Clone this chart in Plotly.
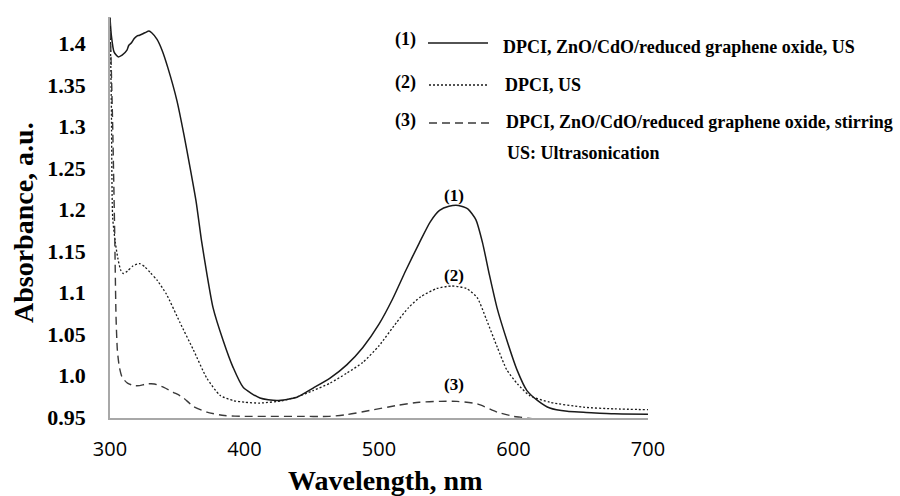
import plotly.graph_objects as go

# ---------------- data ----------------
wl_1 = [300, 301, 303, 306, 309, 312.6, 314, 316, 318, 320, 322, 326, 329, 331, 335, 338.7, 343, 349.8,
        355, 359.5, 364, 368, 372, 376.6, 384, 391.5, 399, 411.5, 424, 439, 451, 463.6, 476, 488, 500,
        510, 520, 530, 538, 545, 552, 559, 566, 572, 577, 582, 587.7, 595, 602.6, 610, 618, 627, 640, 652,
        675, 700]
abs_1 = [1.431, 1.410, 1.390, 1.384, 1.386, 1.392, 1.398, 1.401, 1.406, 1.409, 1.410, 1.413, 1.415, 1.413,
         1.405, 1.392, 1.371, 1.331, 1.290, 1.251, 1.210, 1.163, 1.123, 1.082, 1.043, 1.010, 0.986, 0.973,
         0.970, 0.974, 0.985, 0.997, 1.013, 1.034, 1.062, 1.092, 1.127, 1.160, 1.185, 1.199, 1.204, 1.205,
         1.201, 1.188, 1.160, 1.122, 1.082, 1.043, 1.007, 0.982, 0.970, 0.961, 0.957, 0.956, 0.954, 0.9535]

wl_2 = [300, 301, 302, 304, 306, 308, 310, 313, 317, 322, 326, 330, 335, 342, 352, 362, 372, 382, 391.5,
        400, 411.5, 428.6, 440, 451, 463.6, 476, 488, 500, 513, 522, 531, 543, 554, 565, 573, 580, 588,
        595, 603, 612, 627, 652, 675, 700]
abs_2 = [1.431, 1.330, 1.190, 1.160, 1.140, 1.127, 1.123, 1.126, 1.132, 1.135, 1.131, 1.124, 1.115, 1.098,
         1.064, 1.031, 0.997, 0.976, 0.970, 0.968, 0.967, 0.970, 0.975, 0.982, 0.991, 1.003, 1.016, 1.036,
         1.064, 1.082, 1.095, 1.105, 1.108, 1.105, 1.094, 1.067, 1.034, 1.007, 0.990, 0.976, 0.968, 0.962,
         0.960, 0.959]

wl_3 = [300, 302, 303.5, 304.5, 305.5, 307, 309, 313, 318, 322, 327, 333, 340, 347, 354, 362, 372, 385,
        400, 440, 463, 476, 493, 513, 530, 545, 558, 573, 588, 600, 605, 615, 640, 700]
abs_3 = [1.431, 1.300, 1.170, 1.070, 1.030, 1.010, 0.998, 0.991, 0.988, 0.988, 0.990, 0.990, 0.986, 0.980,
         0.974, 0.963, 0.956, 0.952, 0.951, 0.951, 0.951, 0.953, 0.958, 0.964, 0.968, 0.969, 0.969, 0.966,
         0.956, 0.951, 0.950, 0.948, 0.9475, 0.9475]

y_tick_vals = [0.95, 1.0, 1.05, 1.1, 1.15, 1.2, 1.25, 1.3, 1.35, 1.4]
y_tick_text = ["0.95", "1.0", "1.05", "1.1", "1.15", "1.2", "1.25", "1.3", "1.35", "1.4"]
x_tick_vals = [300, 400, 500, 600, 700]

legend_tags = ["(1)", "(2)", "(3)"]
legend_names = ["DPCI, ZnO/CdO/reduced graphene oxide, US", "DPCI, US",
                "DPCI, ZnO/CdO/reduced graphene oxide, stirring"]
legend_note = "US: Ultrasonication"
curve_tags = ["(1)", "(2)", "(3)"]
curve_tag_pos = [(556, 1.217), (556, 1.121), (556, 0.989)]

# ---------------- layout helpers ----------------
W, H = 900, 496
L, R, T, B = 110, 252, 17, 78
pw, ph = W - L - R, H - T - B


def px(xp):
    return (xp - L) / pw


def py(yp):
    return (H - B - yp) / ph


SERIF = "Liberation Serif"
styles = [dict(color="#1a1a1a", width=1.5, dash="solid"),
          dict(color="#1a1a1a", width=1.3, dash="2px,2px"),
          dict(color="#3a3a3a", width=1.4, dash="8px,5px")]

fig = go.Figure()
for xs, ys, st, nm in zip([wl_1, wl_2, wl_3], [abs_1, abs_2, abs_3], styles, legend_names):
    fig.add_trace(go.Scatter(x=xs, y=ys, mode="lines", line=dict(shape="spline", smoothing=0.6, **st),
                             name=nm, showlegend=False))

ann = []
shapes = []
leg_rows = [(43, 40, 47), (85, 82, 85), (123, 120, 122)]
leg_line_x = [(428, 488), (429, 489), (429, 493)]
leg_text_x = [501, 503, 504]
for i in range(3):
    ly, tagy, ty = leg_rows[i]
    ann.append(dict(x=px(405), y=py(tagy), xref="paper", yref="paper", text="<b>%s</b>" % legend_tags[i],
                    showarrow=False, font=dict(family=SERIF, size=18, color="black"), xanchor="center",
                    yanchor="middle"))
    ann.append(dict(x=px(leg_text_x[i]), y=py(ty), xref="paper", yref="paper",
                    text="<b>%s</b>" % legend_names[i], showarrow=False,
                    font=dict(family=SERIF, size=18, color="black"), xanchor="left", yanchor="middle"))
    shapes.append(dict(type="line", xref="paper", yref="paper", x0=px(leg_line_x[i][0]),
                       x1=px(leg_line_x[i][1]), y0=py(ly), y1=py(ly), line=styles[i]))
ann.append(dict(x=px(505), y=py(153), xref="paper", yref="paper", text="<b>%s</b>" % legend_note,
                showarrow=False, font=dict(family=SERIF, size=18, color="black"), xanchor="left",
                yanchor="middle"))
for tag, (tx, ty) in zip(curve_tags, curve_tag_pos):
    ann.append(dict(x=tx, y=ty, xref="x", yref="y", text="<b>%s</b>" % tag, showarrow=False,
                    font=dict(family=SERIF, size=17, color="black"), xanchor="center", yanchor="middle"))

# axis titles
ann.append(dict(x=px(385), y=py(497), xref="paper", yref="paper", text="<b>Wavelength, nm</b>",
                showarrow=False, font=dict(family=SERIF, size=28, color="black"), xanchor="center",
                yanchor="bottom", borderpad=0))
ann.append(dict(x=px(23), y=py(223), xref="paper", yref="paper", text="<b>Absorbance, a.u.</b>",
                showarrow=False, font=dict(family=SERIF, size=28, color="black"), textangle=-90,
                xanchor="center", yanchor="middle"))

fig.update_layout(
    width=W, height=H, margin=dict(l=L, r=R, t=T, b=B),
    paper_bgcolor="white", plot_bgcolor="white",
    annotations=ann, shapes=shapes,
    xaxis=dict(range=[300, 700], tickvals=x_tick_vals, showgrid=False, zeroline=False,
               showline=True, linecolor="#a8a8a8", linewidth=1.5, ticks="",
               tickfont=dict(family="Open Sans", size=20, color="black"), ticklabelstandoff=12),
    yaxis=dict(range=[0.949, 1.432], tickvals=y_tick_vals, ticktext=y_tick_text, showgrid=False,
               zeroline=False, showline=True, linecolor="#a8a8a8", linewidth=1.5, ticks="",
               tickfont=dict(family=SERIF, size=22, color="black", weight="bold"), ticklabelstandoff=18),
)

fig.write_html("out.html")
